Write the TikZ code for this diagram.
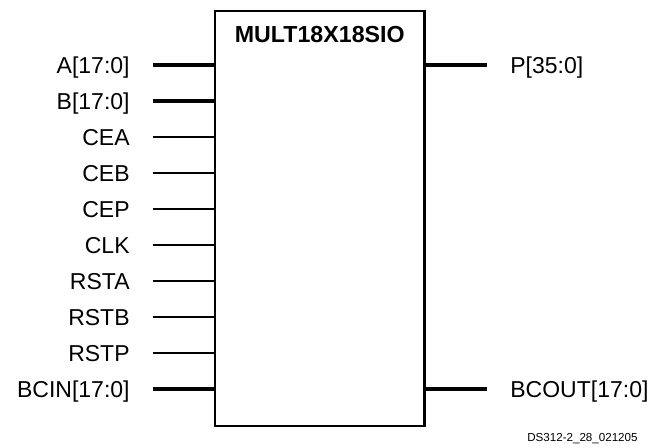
\documentclass[tikz,border=0pt]{standalone}
\usepackage{fontspec}
\setmainfont{Liberation Sans}
\usepackage{tikz}
\usetikzlibrary{positioning}
\tikzset{
  node-block/.style={draw,line width=1.1pt,minimum width=104.75pt,
    minimum height=207.5pt,inner sep=0pt},
  node-title/.style={inner sep=0pt,font=\fontsize{11.6}{13}\selectfont\bfseries,
    text height=8.3pt,text depth=0pt},
  node-pin/.style={inner sep=0pt,font=\fontsize{11.5}{13}\selectfont,
    text height=8.3pt,text depth=0pt},
  node-id/.style={inner sep=0pt,font=\fontsize{5.8}{7}\selectfont},
  pin-bus/.style={line width=1.75pt},
  pin-wire/.style={line width=0.6pt},
}

\begin{document}
\begin{tikzpicture}[x=0.5pt,y=-0.5pt,node distance=11.5pt]
  \useasboundingbox (0,0) rectangle (655,447);
  \node[node-block] (mult) at (319.75,218.5) {};
  \node[node-title,below=8pt of mult.north] (mult-name) {MULT18X18SIO};
  % inputs
  \coordinate (a-in) at (153,65);
  \coordinate (b-in) at (153,101);
  \coordinate (cea-in) at (153,137);
  \coordinate (ceb-in) at (153,173);
  \coordinate (cep-in) at (153,209);
  \coordinate (clk-in) at (153,245);
  \coordinate (rsta-in) at (153,281);
  \coordinate (rstb-in) at (153,317);
  \coordinate (rstp-in) at (153,353);
  \coordinate (bcin-in) at (153,389);
  \node[node-pin,left=of a-in] (a-lbl) {A[17:0]};
  \node[node-pin,left=of b-in] (b-lbl) {B[17:0]};
  \node[node-pin,left=of cea-in] (cea-lbl) {CEA};
  \node[node-pin,left=of ceb-in] (ceb-lbl) {CEB};
  \node[node-pin,left=of cep-in] (cep-lbl) {CEP};
  \node[node-pin,left=of clk-in] (clk-lbl) {CLK};
  \node[node-pin,left=of rsta-in] (rsta-lbl) {RSTA};
  \node[node-pin,left=of rstb-in] (rstb-lbl) {RSTB};
  \node[node-pin,left=of rstp-in] (rstp-lbl) {RSTP};
  \node[node-pin,left=of bcin-in] (bcin-lbl) {BCIN[17:0]};
  \draw[pin-bus] (a-in) -- (a-in -| mult.west);
  \draw[pin-bus] (b-in) -- (b-in -| mult.west);
  \draw[pin-wire] (cea-in) -- (cea-in -| mult.west);
  \draw[pin-wire] (ceb-in) -- (ceb-in -| mult.west);
  \draw[pin-wire] (cep-in) -- (cep-in -| mult.west);
  \draw[pin-wire] (clk-in) -- (clk-in -| mult.west);
  \draw[pin-wire] (rsta-in) -- (rsta-in -| mult.west);
  \draw[pin-wire] (rstb-in) -- (rstb-in -| mult.west);
  \draw[pin-wire] (rstp-in) -- (rstp-in -| mult.west);
  \draw[pin-bus] (bcin-in) -- (bcin-in -| mult.west);
  % outputs
  \coordinate (p-out) at (487,65);
  \coordinate (bcout-out) at (487,389);
  \node[node-pin,right=of p-out] (p-lbl) {P[35:0]};
  \node[node-pin,right=of bcout-out] (bcout-lbl) {BCOUT[17:0]};
  \draw[pin-bus] (p-out -| mult.east) -- (p-out);
  \draw[pin-bus] (bcout-out -| mult.east) -- (bcout-out);
  \node[node-id,anchor=base east] (fig-id) at (638,441) {DS312-2\_28\_021205};
\end{tikzpicture}
\end{document}
